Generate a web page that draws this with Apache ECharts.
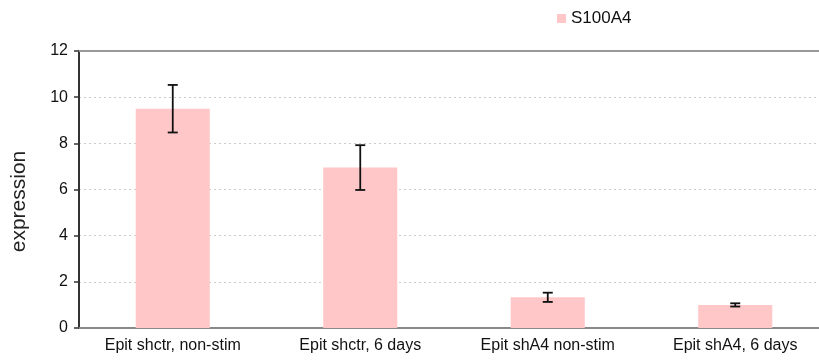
<!DOCTYPE html>
<html><head><meta charset="utf-8">
<script src="https://cdn.jsdelivr.net/npm/echarts@6/dist/echarts.min.js"></script>
<style>html,body{margin:0;padding:0;background:#fff}#c{width:819px;height:360px}</style>
</head><body><div id="c"></div>
<script>
const categories = ['Epit shctr, non-stim', 'Epit shctr, 6 days', 'Epit shA4 non-stim', 'Epit shA4, 6 days'];
const values = [9.5, 6.95, 1.33, 1.0];
const errors = [1.03, 0.97, 0.2, 0.07];
const yTicks = [0, 2, 4, 6, 8, 10, 12];
const seriesName = 'S100A4';

const chart = echarts.init(document.getElementById('c'));
const font = 'Liberation Sans, Arial, sans-serif';
chart.setOption({
  animation: false,
  legend: {
    data: [{name: seriesName, icon: 'rect'}],
    top: 5, left: 552, itemWidth: 9, itemHeight: 9, itemGap: 7,
    textStyle: {fontFamily: font, fontSize: 17, color: '#111'}
  },
  grid: {left: 79, top: 51, right: -10, bottom: 32, outerBoundsMode: 'none', containLabel: false},
  xAxis: [{
    type: 'category', data: categories,
    axisLine: {lineStyle: {color: '#888', width: 2}},
    axisTick: {show: false},
    axisLabel: {fontFamily: font, fontSize: 16, color: '#111', margin: 10, interval: 0}
  }, {
    type: 'category', data: categories, position: 'top',
    axisLine: {lineStyle: {color: '#999', width: 2}},
    axisTick: {show: false}, axisLabel: {show: false}
  }],
  yAxis: {
    type: 'value', min: yTicks[0], max: yTicks[yTicks.length - 1], interval: 2,
    name: 'expression', nameLocation: 'middle', nameGap: 49,
    nameTextStyle: {fontFamily: font, fontSize: 21, color: '#222', padding: [0, 24, 0, 0]},
    axisLine: {show: true, lineStyle: {color: '#333', width: 2}},
    axisTick: {show: true, length: 5, lineStyle: {color: '#333', width: 1.5}},
    axisLabel: {fontFamily: font, fontSize: 16, color: '#111', margin: 11},
    splitLine: {show: true, lineStyle: {color: '#ccc', type: [2, 3], width: 1}}
  },
  series: [{
    name: seriesName, type: 'bar', data: values, barWidth: '39.5%',
    itemStyle: {color: '#ffc7c7'}
  }, {
    type: 'custom', name: 'err',
    data: values.map((v, i) => [i, v - errors[i], v + errors[i]]),
    renderItem: function (params, api) {
      const x = api.value(0);
      const lo = api.coord([x, api.value(1)]);
      const hi = api.coord([x, api.value(2)]);
      const hw = 5;
      const style = {stroke: '#111', lineWidth: 1.8};
      return {type: 'group', children: [
        {type: 'line', shape: {x1: lo[0], y1: lo[1], x2: hi[0], y2: hi[1]}, style: style},
        {type: 'line', shape: {x1: lo[0] - hw, y1: lo[1], x2: lo[0] + hw, y2: lo[1]}, style: style},
        {type: 'line', shape: {x1: hi[0] - hw, y1: hi[1], x2: hi[0] + hw, y2: hi[1]}, style: style}
      ]};
    },
    z: 5
  }]
});
</script></body></html>
